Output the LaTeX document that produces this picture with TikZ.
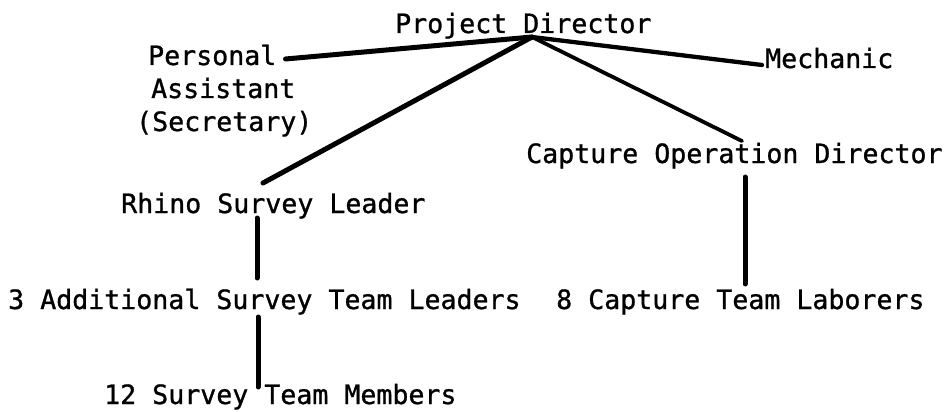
\documentclass[tikz,border=0pt]{standalone}
\usepackage{fontspec}
\setmonofont[FakeBold=1]{DejaVu Sans Mono}
\usetikzlibrary{calc}
\tikzset{
  lbl/.style={anchor=base west, inner sep=0pt, font=\ttfamily\fontsize{26.6}{32}\selectfont},
  link/.style={line width=5pt, line cap=round, black}
}
\begin{document}
\begin{tikzpicture}[x=1pt,y=-1pt]
\useasboundingbox[fill=white] (0,0) rectangle (946,412);
\node[lbl] (pd)   at (395,33)  {Project Director};
\node[lbl] (pers) at (148,65)  {Personal};
\node[lbl] (asst) at (151,98)  {Assistant};
\node[lbl] (secr) at (136,131) {(Secretary)};
\node[lbl] (mech) at (765,68)  {Mechanic};
\node[lbl] (cod)  at (526,163) {Capture Operation Director};
\node[lbl] (rsl)  at (121,213) {Rhino Survey Leader};
\node[lbl] (asl)  at (8,309)   {3 Additional Survey Team Leaders};
\node[lbl] (ctl)  at (556,309) {8 Capture Team Laborers};
\node[lbl] (stm)  at (104,404) {12 Survey Team Members};
\coordinate (apex) at ($(pd.base west)+(137,4)$);
\draw[link] ($(pers.base east)+(9,-6)$) -- (apex);
\draw[link, line width=4.3pt] (apex) -- ($(mech.base west)+(-3,-3)$);
\draw[link, line width=3.8pt] (apex) -- ($(cod.base west)+(216,-22)$);
\draw[link] (apex) -- ($(rsl.base west)+(142,-30)$);
\draw[link] ($(rsl.base west)+(136,5)$) -- ($(asl.base west)+(249,-31)$);
\draw[link] ($(asl.base west)+(250,8)$) -- ($(stm.base west)+(154,-17)$);
\draw[link] ($(cod.base west)+(219,14)$) -- ($(ctl.base west)+(189,-25)$);
\end{tikzpicture}
\end{document}
